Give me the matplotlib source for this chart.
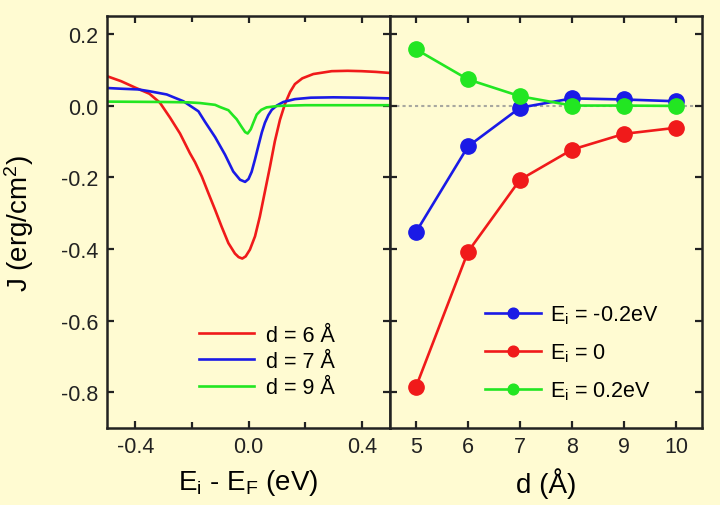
import numpy as np
import matplotlib
matplotlib.use("Agg")
import matplotlib.pyplot as plt

plt.rcParams["font.family"] = ["Liberation Sans", "DejaVu Sans"]
plt.rcParams["axes.unicode_minus"] = False
plt.rcParams["mathtext.default"] = "regular"

# left panel: J vs Ei - EF
e_d6 = [-0.50, -0.45, -0.40, -0.35, -0.313, -0.277, -0.242, -0.207, -0.189, -0.165, -0.142,
        -0.118, -0.095, -0.071, -0.048, -0.035, -0.022, -0.010, 0.005, 0.023, 0.040, 0.058,
        0.076, 0.093, 0.111, 0.129, 0.147, 0.164, 0.19, 0.229, 0.294, 0.35, 0.40, 0.45, 0.50]
j_d6 = [0.082, 0.068, 0.050, 0.033, 0.008, -0.034, -0.078, -0.133, -0.158, -0.198, -0.244,
        -0.291, -0.338, -0.384, -0.413, -0.423, -0.427, -0.421, -0.402, -0.365, -0.310, -0.240,
        -0.170, -0.100, -0.040, 0.005, 0.038, 0.060, 0.076, 0.088, 0.096, 0.097, 0.096, 0.094, 0.091]

e_d7 = [-0.50, -0.45, -0.389, -0.35, -0.289, -0.23, -0.177, -0.154, -0.118, -0.083, -0.054,
        -0.030, -0.012, 0.0, 0.011, 0.023, 0.035, 0.047, 0.058, 0.070, 0.082, 0.100, 0.123,
        0.164, 0.22, 0.30, 0.40, 0.50]
j_d7 = [0.049, 0.047, 0.045, 0.040, 0.031, 0.012, -0.016, -0.045, -0.088, -0.137, -0.184,
        -0.207, -0.213, -0.205, -0.185, -0.150, -0.112, -0.075, -0.048, -0.027, -0.012, 0.000,
        0.010, 0.018, 0.022, 0.023, 0.022, 0.020]

e_d9 = [-0.50, -0.30, -0.213, -0.171, -0.118, -0.101, -0.071, -0.054, -0.042, -0.024, -0.012,
        -0.003, 0.008, 0.017, 0.029, 0.045, 0.064, 0.105, 0.20, 0.35, 0.50]
j_d9 = [0.011, 0.010, 0.009, 0.007, 0.002, -0.004, -0.013, -0.028, -0.038, -0.060, -0.074,
        -0.078, -0.066, -0.048, -0.025, -0.012, -0.005, -0.001, 0.001, 0.001, 0.001]

# right panel: J vs d
d = [5, 6, 7, 8, 9, 10]
j_m02 = [-0.353, -0.114, -0.006, 0.020, 0.017, 0.012]
j_0 = [-0.785, -0.408, -0.207, -0.123, -0.079, -0.062]
j_p02 = [0.157, 0.073, 0.026, 0.000, 0.000, -0.001]

red = "#f01a1a"
blue = "#1a1ae6"
green = "#22e622"
bg = "#fffbd2"

fig = plt.figure(figsize=(7.2, 5.06), dpi=100, facecolor=bg)
ax1 = fig.add_axes([0.1486, 0.1522, 0.3931, 0.8142], facecolor=bg)
ax2 = fig.add_axes([0.5417, 0.1522, 0.4333, 0.8142], facecolor=bg, sharey=ax1)

lw = 1.9
ax1.plot(e_d6, j_d6, color=red, lw=lw, label="d = 6 Å")
ax1.plot(e_d7, j_d7, color=blue, lw=lw, label="d = 7 Å")
ax1.plot(e_d9, j_d9, color=green, lw=lw, label="d = 9 Å")

ax2.axhline(0, color="#a8a8a0", lw=1.5, ls=(0, (1.5, 1.5)), zorder=0)
ax2.plot(d, j_m02, "o-", color=blue, lw=lw, ms=11, label="E$_i$ = -0.2eV")
ax2.plot(d, j_0, "o-", color=red, lw=lw, ms=11, label="E$_i$ = 0")
ax2.plot(d, j_p02, "o-", color=green, lw=lw, ms=11, label="E$_i$ = 0.2eV")

ax1.set_xlim(-0.5, 0.5)
ax1.set_ylim(-0.9, 0.25)
ax2.set_xlim(4.5, 10.5)

ax1.set_xticks([-0.4, 0.0, 0.4])
ax1.set_xticklabels(["-0.4", "0.0", "0.4"])
ax1.set_xticks([-0.2, 0.2], minor=True)
ax1.set_yticks([0.2, 0.0, -0.2, -0.4, -0.6, -0.8])
ax1.set_yticklabels(["0.2", "0.0", "-0.2", "-0.4", "-0.6", "-0.8"])
ax2.set_xticks(d)
plt.setp(ax2.get_yticklabels(), visible=False)

for ax in (ax1, ax2):
    ax.tick_params(which="both", direction="in", top=True, right=True,
                   width=1.6, labelsize=15.5, colors="#222222", pad=6)
    ax.tick_params(which="major", length=5)
    ax.tick_params(which="minor", length=4)
    for s in ax.spines.values():
        s.set_linewidth(1.8)
        s.set_color("#222222")

ax1.set_ylabel("J (erg/cm$^2$)", fontsize=20)
ax1.yaxis.set_label_coords(-0.25, 0.5)
ax1.set_xlabel("E$_i$ - E$_F$ (eV)", fontsize=20, labelpad=7)
ax2.set_xlabel("d (Å)", fontsize=20, labelpad=7)

ax1.legend(loc="lower left", bbox_to_anchor=(0.325, 0.072), frameon=False, fontsize=15.5,
           handlelength=2.55, labelspacing=0.25, borderpad=0, borderaxespad=0,
           handletextpad=0.55)
ax2.legend(loc="lower left", bbox_to_anchor=(0.305, 0.062), frameon=False, fontsize=15.5,
           handlelength=2.6, labelspacing=0.72, markerscale=0.7, borderpad=0,
           borderaxespad=0, handletextpad=0.4)

fig.savefig("out.png", dpi=100, facecolor=bg)
